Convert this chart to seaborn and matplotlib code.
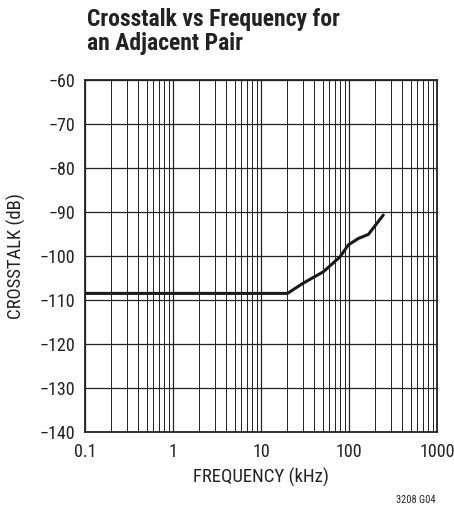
import numpy as np
import pandas as pd
import matplotlib.pyplot as plt
import seaborn as sns
from matplotlib.ticker import FixedLocator, NullFormatter, LogLocator

# Curve
freq_khz = [0.1, 1, 10, 20, 30, 51, 79, 98, 128, 166, 245]
crosstalk_db = [-108.5, -108.5, -108.5, -108.5, -106.2, -103.6, -100.2, -97.5, -96.0, -95.1, -90.7]

x_ticks = [0.1, 1, 10, 100, 1000]
x_tick_labels = ["0.1", "1", "10", "100", "1000"]
y_ticks = [-140, -130, -120, -110, -100, -90, -80, -70, -60]
y_tick_labels = ["\u2212140", "\u2212130", "\u2212120", "\u2212110", "\u2212100",
                 "\u221290", "\u221280", "\u221270", "\u221260"]

df = pd.DataFrame({"freq": freq_khz, "xtalk": crosstalk_db})

sns.set_theme(style="white")
plt.rcParams['font.family'] = ['Roboto Condensed', 'Roboto', 'DejaVu Sans']

fig = plt.figure(figsize=(4.54, 5.13), dpi=100)
ax = fig.add_axes([85 / 454, 1 - 432 / 513, 352 / 454, 352 / 513])

sns.lineplot(data=df, x="freq", y="xtalk", ax=ax, color="#1a1a1a", linewidth=2.2)

ax.set_xscale("log")
ax.set_xlim(0.1, 1000)
ax.set_ylim(-140, -60)

ax.xaxis.set_major_locator(FixedLocator(x_ticks))
ax.set_xticklabels(x_tick_labels)
ax.xaxis.set_minor_locator(LogLocator(base=10, subs=np.arange(2, 10)))
ax.xaxis.set_minor_formatter(NullFormatter())
ax.set_yticks(y_ticks)
ax.set_yticklabels(y_tick_labels)

ax.grid(which="major", axis="both", color="#222222", linewidth=0.9)
ax.grid(which="minor", axis="x", color="#222222", linewidth=0.7)
ax.tick_params(axis="x", which="both", length=0, labelsize=13, colors="#222222", pad=8)
ax.tick_params(axis="y", which="both", length=0, labelsize=13, colors="#222222", pad=7)

for s in ax.spines.values():
    s.set_color("#222222")
    s.set_linewidth(1.3)

ax.set_xlabel("FREQUENCY (kHz)", fontsize=13.5, color="#222222", labelpad=4.5)
ax.set_ylabel("CROSSTALK (dB)", fontsize=13.5, color="#222222", labelpad=10)

fig.text(87 / 454, 1 - 8 / 513, "Crosstalk vs Frequency for\nan Adjacent Pair",
         fontsize=17, fontweight="bold", color="#222222", va="top", ha="left",
         linespacing=1.05)
fig.text(435 / 454, 1 - 500 / 513, "3208 G04", fontsize=7.5, color="#222222",
         ha="right", va="center")

fig.savefig("out.png", dpi=100)
